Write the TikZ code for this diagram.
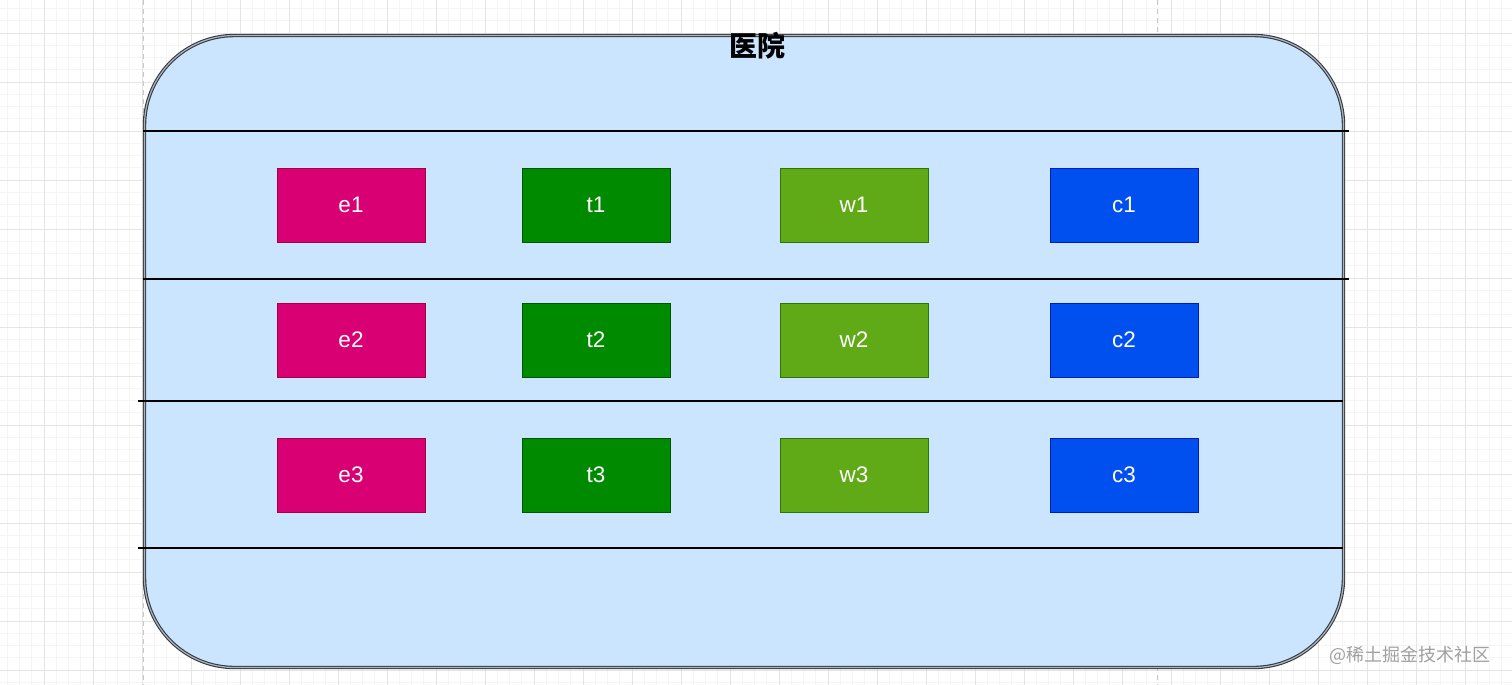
\documentclass[tikz,border=0pt]{standalone}
\usepackage{fontspec}
\setmainfont{Liberation Sans}
\newfontfamily\cjk{Noto Sans CJK SC}
\definecolor{gridminor}{HTML}{F5F5F5}
\definecolor{gridmajor}{HTML}{E4E4E4}
\definecolor{pageline}{HTML}{C8C8C8}
\definecolor{lanefill}{HTML}{CCE5FF}
\definecolor{lanestroke}{HTML}{36393D}
\definecolor{lanegap}{HTML}{A8B4C2}
\definecolor{efill}{HTML}{D80073}\definecolor{estroke}{HTML}{A50040}
\definecolor{tfill}{HTML}{008A00}\definecolor{tstroke}{HTML}{005700}
\definecolor{wfill}{HTML}{60A917}\definecolor{wstroke}{HTML}{2D7600}
\definecolor{cfill}{HTML}{0050EF}\definecolor{cstroke}{HTML}{001DBC}
\definecolor{wmark}{HTML}{A0A0A0}
\tikzset{
  minorgrid/.style={draw=gridminor, line width=0.8pt},
  majorgrid/.style={draw=gridmajor, line width=0.9pt},
  pagebreak/.style={draw=pageline, line width=1pt, dash pattern=on 5pt off 4pt},
  container/.style={draw=lanestroke, double=lanegap, double distance=1.2pt, line width=1.1pt,
    fill=lanefill, rounded corners=90pt, minimum width=1199pt, minimum height=632pt, inner sep=0pt},
  divider/.style={draw=black, line width=1.3pt},
  cell/.style={minimum width=148pt, minimum height=74pt, inner sep=0pt, line width=1pt,
    text=white, font=\fontsize{22.5}{26}\selectfont},
  ecell/.style={cell, fill=efill, draw=estroke},
  tcell/.style={cell, fill=tfill, draw=tstroke},
  wcell/.style={cell, fill=wfill, draw=wstroke},
  ccell/.style={cell, fill=cfill, draw=cstroke},
}
\begin{document}
\begin{tikzpicture}[x=1pt, y=-1pt]
\useasboundingbox (0,0) rectangle (1512,685);
\fill[white] (0,0) rectangle (1512,685);
% grid
\foreach \i in {0,...,125} {
  \draw[minorgrid] ({-5+12.25*\i},0) -- ({-5+12.25*\i},685);
}
\foreach \i in {0,...,57} {
  \draw[minorgrid] (0,{-16+12.25*\i}) -- (1512,{-16+12.25*\i});
}
\foreach \i in {0,...,31} {
  \draw[majorgrid] ({-5+49*\i},0) -- ({-5+49*\i},685);
}
\foreach \i in {0,...,14} {
  \draw[majorgrid] (0,{-16+49*\i}) -- (1512,{-16+49*\i});
}
\draw[pagebreak] (143,0) -- (143,685);
\draw[pagebreak] (1157,0) -- (1157,685);
% container
\node[container] (hospital) at (744,351.5) {};
\node[font=\cjk\bfseries\fontsize{28}{31}\selectfont, anchor=center] (title) at (757,46) {医院};
% dividers
\draw[divider] (143,131) -- (1349,131);
\draw[divider] (143,279) -- (1349,279);
\draw[divider] (138,401) -- (1343,401);
\draw[divider] (138,548) -- (1343,548);
% cells
\node[ecell] (e1) at (351,205) {e1};
\node[tcell] (t1) at (596,205) {t1};
\node[wcell] (w1) at (854,205) {w1};
\node[ccell] (c1) at (1124,205) {c1};
\node[ecell] (e2) at (351,340) {e2};
\node[tcell] (t2) at (596,340) {t2};
\node[wcell] (w2) at (854,340) {w2};
\node[ccell] (c2) at (1124,340) {c2};
\node[ecell] (e3) at (351,475) {e3};
\node[tcell] (t3) at (596,475) {t3};
\node[wcell] (w3) at (854,475) {w3};
\node[ccell] (c3) at (1124,475) {c3};
% watermark
\node[text=wmark, font=\cjk\fontsize{18}{21}\selectfont, anchor=east, inner sep=0pt] (wm) at (1491,655) {@稀土掘金技术社区};
\end{tikzpicture}
\end{document}
